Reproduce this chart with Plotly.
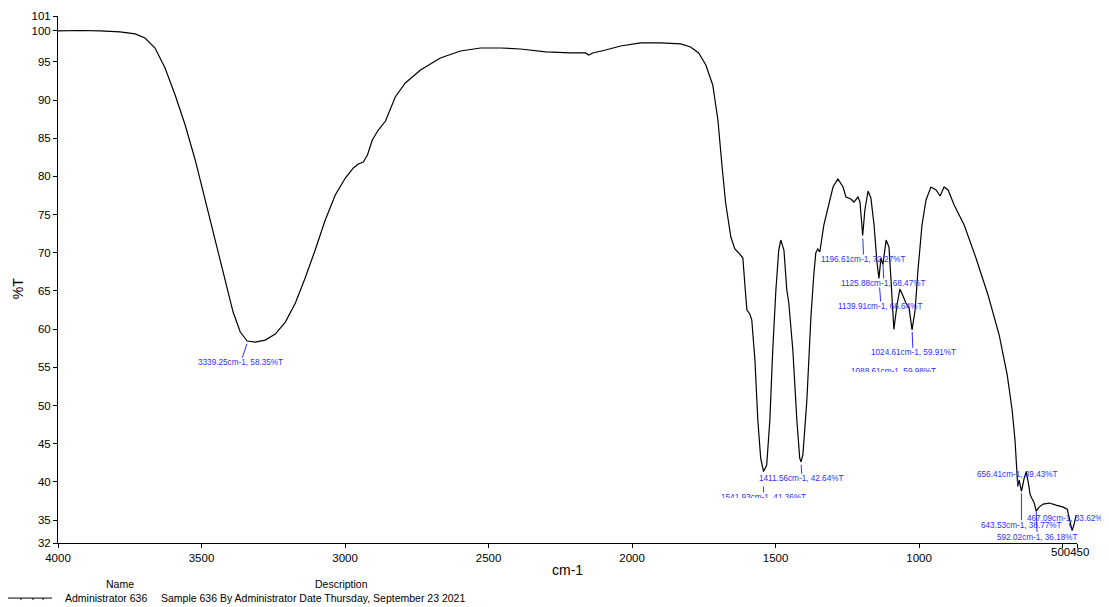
import plotly.graph_objects as go

# ---- spectrum data (cm-1, %T) ----
wavenumber = [4000, 3923, 3853, 3784, 3731, 3697, 3662, 3627, 3592, 3557, 3522, 3487, 3452, 3418, 3390,
              3365, 3341, 3313, 3278, 3243, 3208, 3173, 3139, 3104, 3069, 3034, 2999, 2971, 2954, 2936,
              2922, 2905, 2884, 2859, 2846, 2825, 2790, 2737, 2668, 2598, 2528, 2458, 2389, 2301, 2214,
              2162, 2151, 2137, 2092, 2040, 1970, 1900, 1831, 1796, 1768, 1743, 1719, 1701, 1687, 1674,
              1656, 1642, 1628, 1614, 1607, 1600, 1590, 1583, 1572, 1562, 1552, 1542, 1531, 1520, 1510,
              1499, 1489, 1482, 1471, 1461, 1454, 1440, 1426, 1416, 1411.6, 1405, 1391, 1377, 1367, 1360,
              1353, 1346, 1332, 1318, 1300, 1283, 1265, 1255, 1238, 1227, 1213, 1206, 1196.6, 1189, 1178,
              1168, 1157, 1147, 1140, 1133, 1126, 1115, 1105, 1098, 1088, 1077, 1067, 1056, 1046, 1035,
              1024.6, 1014, 1004, 990, 976, 959, 941, 927, 913, 899, 878, 843, 802, 760, 721,
              693, 676, 666, 656.4, 651.5, 643.5, 634, 627, 620, 613, 606, 599, 592, 582, 568,
              547, 523, 498, 484, 474, 467.1, 460, 453]
transmittance = [99.04, 99.10, 99.04, 98.91, 98.65, 98.12, 96.81, 94.19, 90.66, 86.73, 82.15, 76.91, 71.41, 66.17, 62.24,
                 59.62, 58.44, 58.31, 58.57, 59.36, 60.93, 63.42, 66.69, 70.36, 74.29, 77.56, 79.79, 81.10, 81.62, 81.88,
                 82.80, 84.77, 86.07, 87.25, 88.43, 90.40, 92.23, 93.93, 95.50, 96.42, 96.81, 96.81, 96.68, 96.29, 96.16,
                 96.16, 95.90, 96.16, 96.55, 97.07, 97.47, 97.47, 97.34, 96.94, 96.16, 94.59, 91.97, 87.38, 81.49, 76.51,
                 72.06, 70.49, 69.97, 69.31, 65.78, 62.50, 61.98, 61.19, 55.95, 48.10, 43.12, 41.36, 42.20, 48.10, 57.26,
                 65.12, 70.36, 71.67, 70.36, 65.12, 63.42, 57.26, 48.10, 43.12, 42.64, 43.51, 50.72, 61.58, 67.09, 69.97,
                 70.49, 70.10, 73.63, 75.99, 78.61, 79.66, 78.61, 77.30, 77.04, 76.64, 77.30, 76.64, 72.27, 75.60, 78.09,
                 77.17, 73.63, 68.79, 66.64, 69.31, 68.47, 71.67, 70.75, 66.43, 59.98, 63.16, 65.25, 64.34, 63.42, 62.76,
                 59.91, 62.50, 67.74, 73.63, 76.91, 78.61, 78.22, 77.43, 78.61, 78.22, 76.25, 73.63, 69.31, 64.47, 59.23,
                 53.99, 49.41, 45.48, 39.43, 40.24, 38.77, 40.50, 41.30, 40.00, 38.30, 37.75, 37.23, 36.18, 36.70, 37.10,
                 37.23, 36.96, 36.70, 36.44, 35.00, 33.62, 34.48, 35.65]

# ---- peak labels ----
peak_wn = [3339.25, 1411.56, 1541.93, 1196.61, 1125.88, 1139.91, 1024.61, 1088.61, 656.41, 643.53, 592.02, 467.09]
peak_t = [58.35, 42.64, 41.36, 72.27, 68.47, 66.64, 59.91, 59.98, 39.43, 38.77, 36.18, 33.62]
# label offsets (px) and arrow standoff, clipped flag
peak_ax = [-7, 1, 0, 1, 1, 2, 1, 0, 0, 0, 1, -5]
peak_ay = [21, 17, 24, 24, 19, 28, 23, 40, -12, 34, 26, -12]
peak_standoff = [2, 3, 15, 3, 0, 9, 2, 30, 1, 2, 0, 0]
peak_clipped = [False, False, True, False, False, False, False, True, False, False, False, False]

x_ticks = [4000, 3500, 3000, 2500, 2000, 1500, 1000, 500, 450]
x_ticktext = ["4000", "3500", "3000", "2500", "2000", "1500", "1000", "", ""]
x_end_label = "500450"
y_ticks = [32, 35, 40, 45, 50, 55, 60, 65, 70, 75, 80, 85, 90, 95, 99.04, 101]
y_ticktext = ["32", "35", "40", "45", "50", "55", "60", "65", "70", "75", "80", "85", "90", "95", "100", "101"]

FONT = "Liberation Sans, Arial, sans-serif"
BLUE = "#2f2fff"

fig = go.Figure()
fig.add_trace(go.Scatter(x=wavenumber, y=transmittance, mode="lines",
                         line=dict(color="black", width=1.2), showlegend=False, hoverinfo="skip"))

annotations = []
for wn, t, ax, ay, so, clip in zip(peak_wn, peak_t, peak_ax, peak_ay, peak_standoff, peak_clipped):
    a = dict(x=wn, y=t, xref="x", yref="y", text=f"{wn:.2f}cm-1, {t:.2f}%T",
             showarrow=True, arrowhead=0, arrowwidth=1, arrowcolor=BLUE,
             ax=ax, ay=ay, standoff=so, font=dict(family=FONT, size=8.2, color=BLUE),
             borderpad=0)
    if clip:
        a.update(height=5, valign="top")
    annotations.append(a)

annotations += [
    dict(x=475, y=-0.0171, xref="x", yref="paper", text=x_end_label, showarrow=False,
         font=dict(family=FONT, size=11.5, color="black"), yanchor="middle"),
    dict(x=0.5, y=-0.0512, xref="paper", yref="paper", text="cm-1", showarrow=False,
         font=dict(family=FONT, size=14, color="black"), yanchor="middle"),
    dict(x=-0.039, y=0.482, xref="paper", yref="paper", text="%T", showarrow=False, textangle=-90,
         font=dict(family=FONT, size=14, color="black"), xanchor="center", yanchor="middle"),
    dict(x=0.0451, y=-0.0778, xref="paper", yref="paper", text="Name", showarrow=False,
         font=dict(family=FONT, size=10.5, color="black"), yanchor="middle"),
    dict(x=0.250, y=-0.0778, xref="paper", yref="paper", text="Description", showarrow=False,
         font=dict(family=FONT, size=10.5, color="black"), yanchor="middle"),
    dict(x=0.0049, y=-0.1045, xref="paper", yref="paper", text="Administrator 636", showarrow=False,
         font=dict(family=FONT, size=10.5, color="black"), xanchor="left", yanchor="middle"),
    dict(x=0.0991, y=-0.1045, xref="paper", yref="paper",
         text="Sample 636 By Administrator Date Thursday, September 23 2021", showarrow=False,
         font=dict(family=FONT, size=10.5, color="black"), xanchor="left", yanchor="middle"),
]

shapes = [dict(type="line", xref="paper", yref="paper", x0=-0.049, x1=-0.0059, y0=-0.1045, y1=-0.1045,
               line=dict(color="black", width=1))]
for tx in [-0.0363, -0.0245, -0.0147]:
    shapes.append(dict(type="line", xref="paper", yref="paper", x0=tx, x1=tx, y0=-0.1045, y1=-0.1083,
                       line=dict(color="black", width=1)))

# page body adds an 8px offset, so the figure is sized/margined to compensate
fig.update_layout(
    width=1101, height=599,
    margin=dict(l=50, r=32, t=8, b=64, autoexpand=False),
    paper_bgcolor="white", plot_bgcolor="white",
    font=dict(family=FONT, size=11, color="black"),
    annotations=annotations, shapes=shapes,
    xaxis=dict(range=[4000, 450], tickvals=x_ticks, ticktext=x_ticktext, showgrid=False, zeroline=False,
               showline=True, linecolor="black", linewidth=1, ticks="outside", ticklen=4, tickcolor="black",
               tickangle=0, automargin=False,
               tickfont=dict(family=FONT, size=11.5, color="black")),
    yaxis=dict(range=[32, 101], tickvals=y_ticks, ticktext=y_ticktext, showgrid=False, zeroline=False,
               showline=True, linecolor="black", linewidth=1, ticks="outside", ticklen=4, tickcolor="black",
               automargin=False,
               tickfont=dict(family=FONT, size=11.5, color="black")),
)

fig.write_html("out.html")
